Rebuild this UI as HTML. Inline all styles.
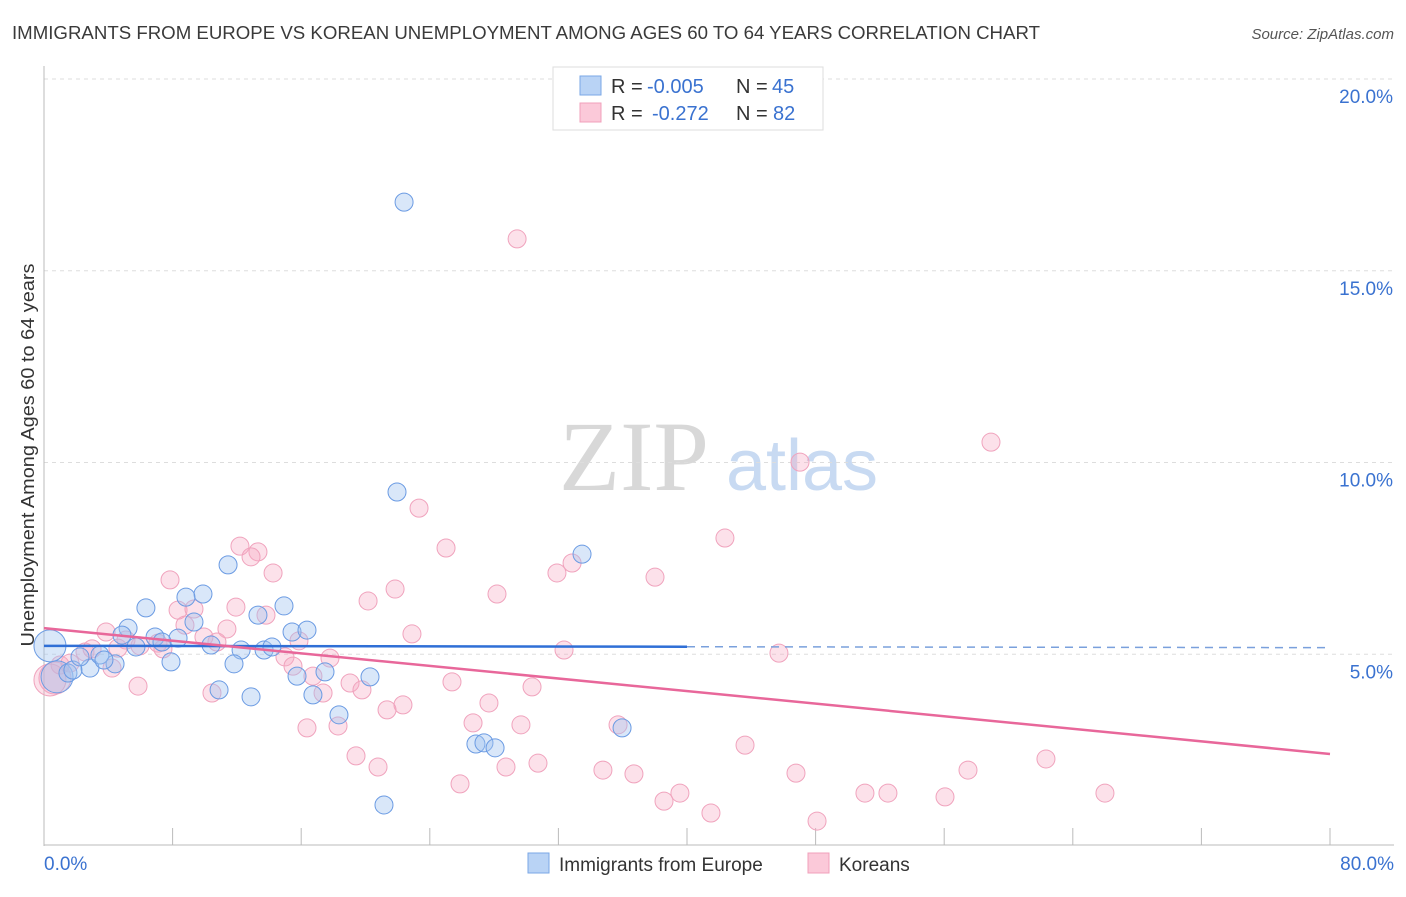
<!DOCTYPE html>
<html><head><meta charset="utf-8"><style>
body{margin:0;background:#fff;font-family:"Liberation Sans",sans-serif}
</style></head><body>
<svg id="chart" width="1406" height="892" font-family="Liberation Sans, sans-serif">
<text x="12" y="39" font-size="18" fill="#3a3a3a" textLength="1028" lengthAdjust="spacingAndGlyphs">IMMIGRANTS FROM EUROPE VS KOREAN UNEMPLOYMENT AMONG AGES 60 TO 64 YEARS CORRELATION CHART</text>
<text x="1394" y="39" font-size="15" fill="#555" font-style="italic" text-anchor="end">Source: ZipAtlas.com</text>
<text x="634" y="490" font-size="100" fill="#d8d8d8" style="font-family:'Liberation Serif',serif" text-anchor="middle">ZIP</text>
<text x="802" y="490" font-size="72" fill="#c8daf2" text-anchor="middle">atlas</text>
<g id="grid"></g><g id="axes"></g><g id="pink"></g><g id="blue"></g><g id="lines"></g>
<text x="-455" y="34" transform="rotate(-90)" font-size="18" fill="#333" text-anchor="middle" textLength="383" lengthAdjust="spacingAndGlyphs">Unemployment Among Ages 60 to 64 years</text>
<g>
<rect x="553" y="67" width="270" height="63" fill="#fff" stroke="#ddd"/>
<rect x="580" y="76" width="21" height="19" fill="#b9d3f5" stroke="#7aa7e6"/>
<rect x="580" y="103" width="21" height="19" fill="#fbc9d9" stroke="#f0a0bb"/>
<text x="611" y="93" font-size="20" fill="#333">R =</text>
<text x="647" y="93" font-size="20" fill="#3a72d0">-0.005</text>
<text x="736" y="93" font-size="20" fill="#333">N =</text>
<text x="772" y="93" font-size="20" fill="#3a72d0">45</text>
<text x="611" y="120" font-size="20" fill="#333">R =</text>
<text x="652" y="120" font-size="20" fill="#3a72d0">-0.272</text>
<text x="736" y="120" font-size="20" fill="#333">N =</text>
<text x="773" y="120" font-size="20" fill="#3a72d0">82</text>
</g>
<g>
<rect x="528" y="853" width="21" height="20" fill="#b9d3f5" stroke="#7aa7e6"/>
<text x="559" y="871" font-size="19" fill="#333">Immigrants from Europe</text>
<rect x="808" y="853" width="21" height="20" fill="#fbc9d9" stroke="#f0a0bb"/>
<text x="839" y="871" font-size="19" fill="#333">Koreans</text>
</g>
</svg>
<script>
const blueX=[22.4,21.96,33.47,11.45,9.89,8.83,6.34,14.93,13.31,5.23,9.33,4.85,6.91,8.34,7.34,10.39,12.26,13.69,14.18,15.43,16.36,0.37,4.42,7.90,11.82,2.86,3.48,15.74,17.48,20.28,10.89,12.88,16.73,18.35,26.87,27.37,28.06,35.96,21.15,0.81,1.49,1.80,2.24,3.73,5.72];
const blueY=[16.79,9.23,7.61,7.33,6.57,6.49,6.21,6.26,6.02,5.68,5.84,5.50,5.45,5.42,5.32,5.24,5.11,5.11,5.19,5.58,5.63,5.22,4.75,4.80,4.75,4.64,4.98,4.43,4.54,4.41,4.07,3.89,3.94,3.42,2.66,2.69,2.56,3.08,1.07,4.41,4.51,4.59,4.93,4.85,5.19];
const blueBig=[21,39];
const pinkX=[29.43,58.91,47.03,23.33,25.01,42.36,12.19,13.31,12.88,14.25,7.84,21.84,31.91,32.85,38.01,28.18,20.16,11.94,8.34,9.33,13.81,8.77,11.38,9.95,10.76,22.89,3.86,5.10,7.09,5.97,7.40,32.35,45.72,15.86,17.79,14.99,15.49,4.23,16.73,5.85,17.36,19.04,19.78,25.38,30.36,10.45,27.68,22.33,21.34,26.69,29.67,35.71,16.36,18.29,43.61,19.41,20.78,28.74,30.73,34.77,36.70,46.78,57.48,62.33,25.88,39.56,38.57,41.49,51.07,52.50,56.05,66.00,48.09,0.68,1.00,1.62,2.55,2.99,4.60,0.37];
const pinkY=[15.83,10.53,10.01,8.81,7.77,8.03,7.82,7.67,7.54,7.12,6.94,6.70,7.12,7.38,7.01,6.57,6.39,6.23,6.15,6.18,6.02,5.76,5.66,5.45,5.32,5.53,5.58,5.37,5.29,5.22,5.14,5.11,5.03,5.35,4.90,4.93,4.69,4.64,4.43,4.17,3.99,4.25,4.07,4.28,4.15,3.99,3.73,3.68,3.55,3.21,3.16,3.16,3.08,3.13,2.63,2.35,2.06,2.06,2.16,1.98,1.88,1.90,1.98,2.27,1.62,1.38,1.17,0.86,1.38,1.38,1.28,1.38,0.65,4.38,4.72,4.77,5.06,5.14,5.16,4.33];
const pinkBig=[73,79];
const yTicks=[5,10,15,20];
const xTickLabels=["0.0%","80.0%"];
const blueTrend=[5.22,-0.0006];
const pinkTrend=[5.68,-0.041];
const NS="http://www.w3.org/2000/svg";
const X0=44,X1=1330,Y0=846,Y20=79;
const sx=v=>X0+(X1-X0)*v/80, sy=v=>Y0-(Y0-Y20)*v/20;
function mk(p,t,a){const e=document.createElementNS(NS,t);for(const k in a)e.setAttribute(k,a[k]);p.appendChild(e);return e;}
const grid=document.getElementById('grid'),axes=document.getElementById('axes');
yTicks.forEach(v=>{
 const l=mk(grid,'line',{x1:X0,x2:1394,y1:sy(v),y2:sy(v),stroke:'#ddd','stroke-dasharray':'4,4'});
 
 
 const t=mk(axes,'text',{x:1393,y:sy(v)+24,'font-size':19,fill:'#3a72d0','text-anchor':'end'});
 t.textContent=v.toFixed(1)+'%';
 
 
});
const ax=mk(axes,'line',{x1:X0,x2:X0,y1:66,y2:846,stroke:'#bbb'});


const bx=mk(axes,'line',{x1:X0,x2:1394,y1:845,y2:845,stroke:'#bbb'});


for(let i=0;i<=10;i++){const tk=mk(axes,'line',{x1:sx(i*8),x2:sx(i*8),y1:828,y2:845,stroke:'#bbb'});
 
 }
[[0,44,'start'],[1,1394,'end']].forEach(([i,x,a])=>{const t=mk(axes,'text',{x:x,y:870,'font-size':19,fill:'#3a72d0','text-anchor':a});t.textContent=xTickLabels[i];
 
 });
function pts(g,xs,ys,big,fill,stroke,name){xs.forEach((v,i)=>{
 const c=mk(g,'circle',{cx:sx(v),cy:sy(ys[i]),r:big.includes(i)?16:9,fill:fill,stroke:stroke,'stroke-width':1});
 
 });}
pts(document.getElementById('pink'),pinkX,pinkY,pinkBig,'rgba(246,170,196,0.35)','#f0a3bd','korean-point');
pts(document.getElementById('blue'),blueX,blueY,blueBig,'rgba(160,196,240,0.4)','#6b9be3','europe-point');
const L=document.getElementById('lines');
const b1=mk(L,'line',{x1:sx(0),y1:sy(blueTrend[0]),x2:sx(40),y2:sy(blueTrend[0]+blueTrend[1]*40),stroke:'#2f6fd6','stroke-width':2.5});


const b2=mk(L,'line',{x1:sx(40),y1:sy(blueTrend[0]+blueTrend[1]*40),x2:sx(80),y2:sy(blueTrend[0]+blueTrend[1]*80),stroke:'#7aa0dc','stroke-width':1.5,'stroke-dasharray':'8,6'});


const p1=mk(L,'line',{x1:sx(0),y1:sy(pinkTrend[0]),x2:sx(80),y2:sy(pinkTrend[0]+pinkTrend[1]*80),stroke:'#e8679a','stroke-width':2.5});


</script>
</body></html>
